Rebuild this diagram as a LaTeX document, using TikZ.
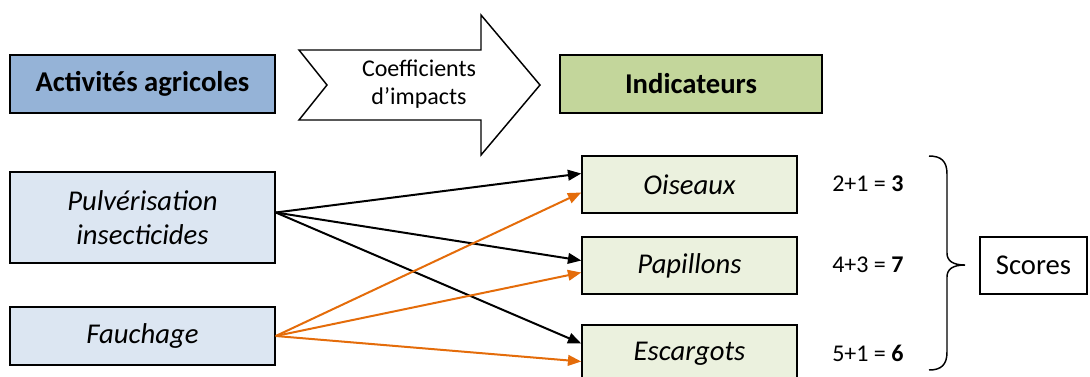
\documentclass[tikz,border=0pt]{standalone}
\usepackage{fontspec}
\setmainfont{Carlito}
\usetikzlibrary{arrows.meta,calc}

\definecolor{activblue}{RGB}{149,179,215}
\definecolor{activlight}{RGB}{220,230,242}
\definecolor{indicgreen}{RGB}{195,214,155}
\definecolor{indiclight}{RGB}{235,241,222}
\definecolor{impactorange}{RGB}{228,108,10}

\begin{document}
\begin{tikzpicture}[x=0.75pt,y=0.75pt,yscale=-1,xscale=1,
    box/.style={draw=black,line width=1.1pt,inner sep=0pt,align=center,
        font=\fontsize{21.5}{26}\selectfont},
    headbox/.style={box,minimum width=198.75pt,minimum height=43.5pt,font=\fontsize{21.5}{26}\selectfont\bfseries},
    actbox/.style={box,fill=activlight,minimum width=198.75pt,font=\fontsize{21.5}{26}\selectfont\itshape},
    indbox/.style={box,fill=indiclight,minimum width=161.25pt,minimum height=42.75pt,font=\fontsize{21.5}{26}\selectfont\itshape},
    scoretxt/.style={anchor=west,inner sep=0pt,font=\fontsize{18}{22}\selectfont},
    link/.style={line width=1.5pt,-{Triangle[length=10pt,width=8pt]}},
    linkorange/.style={link,draw=impactorange,-{Triangle[length=10pt,width=8pt,fill=impactorange]}}]
    \useasboundingbox (0,0) rectangle (1090,376);

    % Headers
    \node [headbox,fill=activblue] (activ) at (142.5,84) {Activités agricoles};
    \node [headbox,fill=indicgreen,minimum width=196.5pt] (indic) at (691,84) {Indicateurs};

    % Big arrow
    \draw [line width=1.1pt,fill=white] (299,50) -- (481,50) -- (481,15) -- (540,85) -- (481,155) -- (481,120) -- (299,120) -- (327,85) -- cycle;
    \node [inner sep=0pt,align=center,font=\fontsize{18}{21}\selectfont] (coef) at (419,84) {Coefficients\\d’impacts};

    % Activities
    \node [actbox,minimum height=68.25pt] (pulv) at (142.5,217.5) {Pulvérisation\\insecticides};
    \node [actbox,minimum height=43.5pt] (fauch) at (142.5,336) {Fauchage};

    % Indicators
    \node [indbox] (ois) at (689.5,184.5) {Oiseaux};
    \node [indbox] (pap) at (689.5,265.5) {Papillons};
    \node [indbox] (esc) at (689.5,353.5) {Escargots};

    % Impacts
    \draw [link] ($(pulv.east)+(0,-5)$) -- ($(ois.west)+(0,-11)$);
    \draw [link] ($(pulv.east)+(0,-5)$) -- ($(pap.west)+(0,-5)$);
    \draw [link] ($(pulv.east)+(0,-5)$) -- ($(esc.west)+(0,-10)$);
    \draw [linkorange] (fauch.east) -- ($(ois.west)+(0,8)$);
    \draw [linkorange] (fauch.east) -- ($(pap.west)+(0,7)$);
    \draw [linkorange] (fauch.east) -- ($(esc.west)+(0,8)$);

    % Scores
    \node [scoretxt] (s1) at (832,184) {2+1 = \textbf{3}};
    \node [scoretxt] (s2) at (832,265) {4+3 = \textbf{7}};
    \node [scoretxt] (s3) at (832,353) {5+1 = \textbf{6}};

    %Brace
    \draw [line width=1.1pt] (929,156) .. controls (941,156) and (947,161) .. (947,174) -- (947,253) .. controls (947,261) and (953,265) .. (965,265) .. controls (953,265) and (947,269) .. (947,277) -- (947,352) .. controls (947,365) and (941,370) .. (929,370);

    \node [box,minimum width=80.25pt,minimum height=42.75pt] (scores) at (1033.5,265.5) {Scores};
\end{tikzpicture}
\end{document}
